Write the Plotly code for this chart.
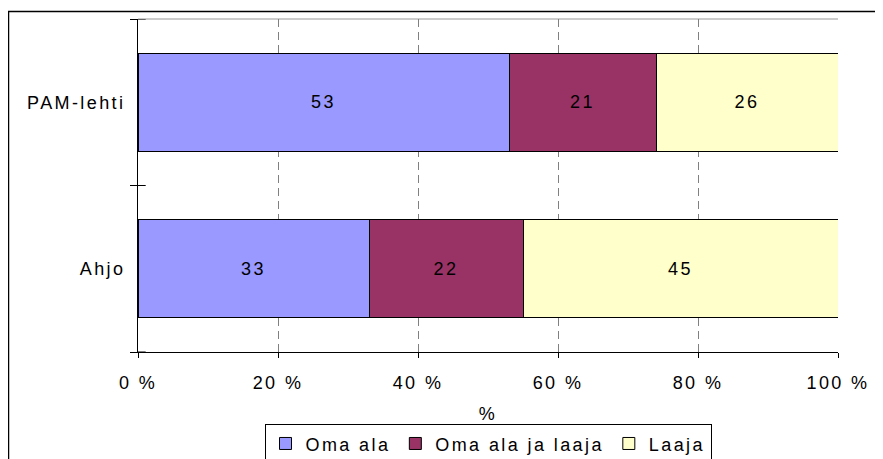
import plotly.graph_objects as go

categories = ["Ahjo", "PAM-lehti"]
series_names = ["Oma ala", "Oma ala ja laaja", "Laaja"]
oma_ala = [33, 53]
oma_ala_ja_laaja = [22, 21]
laaja = [45, 26]
colors = ["#9999FF", "#993366", "#FFFFCC"]
tick_vals = [0, 20, 40, 60, 80, 100]
tick_text = ["0 %", "20 %", "40 %", "60 %", "80 %", "100 %"]
x_title = "%"


def sp(s):
    return '<span style="letter-spacing:2.4px">' + s + '</span>'


font = dict(family="Liberation Sans, Arial, sans-serif", size=18, color="black")

fig = go.Figure()
for name, vals, col in zip(series_names, [oma_ala, oma_ala_ja_laaja, laaja], colors):
    fig.add_trace(go.Bar(
        y=categories, x=vals, name=sp(name), orientation="h",
        marker=dict(color=col, line=dict(color="black", width=1)),
        text=[sp(str(v)) for v in vals], textposition="inside",
        insidetextanchor="middle", textfont=font, width=0.59,
        hoverinfo="x+y",
    ))

# outer chart border (left and top only, rest cut off)
fig.add_shape(type="path", xref="paper", yref="paper",
              path="M -0.1850,-0.5 L -0.1850,1.0225 L 1.2,1.0225",
              line=dict(color="black", width=1.5), layer="above")
# top plot border (gray)
fig.add_shape(type="line", xref="paper", yref="paper", x0=0, x1=1, y0=1, y1=1,
              line=dict(color="#999999", width=1), layer="below")
# y tick crossing parts (inside)
for yb in [-0.5, 0.5, 1.5]:
    fig.add_shape(type="line", xref="paper", yref="y", x0=0, x1=0.011, y0=yb, y1=yb,
                  line=dict(color="black", width=1))

fig.update_layout(
    width=875, height=451,
    margin=dict(l=130, r=45, t=11, b=107, autoexpand=False),
    barmode="stack",
    plot_bgcolor="white", paper_bgcolor="white",
    font=font,
    showlegend=True,
    legend=dict(orientation="h", x=0.5, xanchor="center",
                yref="container", y=0.077, yanchor="top",
                bordercolor="black", borderwidth=1, font=font,
                traceorder="normal", itemwidth=30, tracegroupgap=0),
)
fig.update_xaxes(range=[0, 100], tickvals=tick_vals, ticktext=[sp(t) for t in tick_text],
                 showgrid=True, gridcolor="#808080", griddash="8px,5px", gridwidth=1,
                 showline=True, linecolor="black", linewidth=1, automargin=False,
                 ticks="outside", ticklen=5, tickcolor="black", ticklabelstandoff=9,
                 title=dict(text=sp(x_title), font=font, standoff=15),
                 zeroline=False, tickfont=font)
fig.update_yaxes(showline=True, linecolor="black", linewidth=1, automargin=False,
                 tickvals=categories, ticktext=[sp(c) for c in categories],
                 ticks="outside", ticklen=7, tickcolor="black", tickson="boundaries",
                 ticklabelstandoff=8,
                 showgrid=False, tickfont=font, range=[-0.5, 1.5])

fig.write_html("out.html")
